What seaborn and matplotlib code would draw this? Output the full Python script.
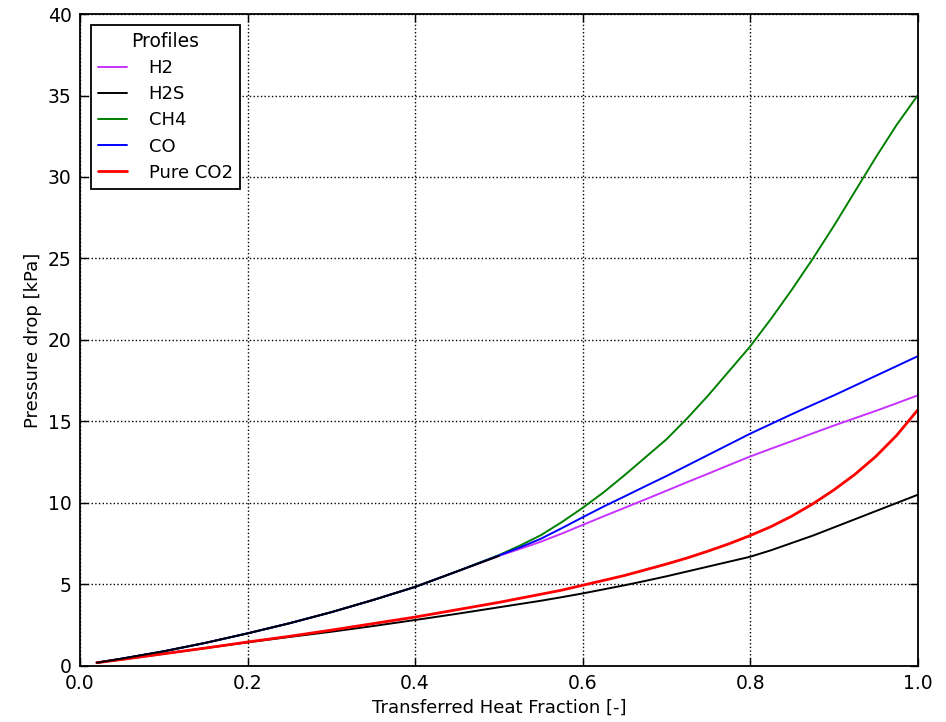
import numpy as np
import pandas as pd
import matplotlib.pyplot as plt
import seaborn as sns

# transferred heat fraction
frac = [0.02, 0.05, 0.10, 0.15, 0.20, 0.25, 0.30, 0.35, 0.40, 0.45, 0.50,
        0.525, 0.55, 0.575, 0.60, 0.625, 0.65, 0.675, 0.70, 0.725, 0.75,
        0.775, 0.80, 0.825, 0.85, 0.875, 0.90, 0.925, 0.95, 0.975, 1.00]

# pressure drop [kPa]
h2 = [0.2, 0.45, 0.9, 1.42, 2.0, 2.62, 3.3, 4.05, 4.85, 5.8, 6.75,
      7.18, 7.62, 8.12, 8.65, 9.18, 9.7, 10.22, 10.75, 11.28, 11.8,
      12.33, 12.85, 13.33, 13.8, 14.28, 14.75, 15.2, 15.65, 16.12, 16.6]
h2s = [0.2, 0.4, 0.75, 1.1, 1.45, 1.78, 2.1, 2.45, 2.82, 3.2, 3.6,
       3.8, 4.0, 4.22, 4.45, 4.7, 4.95, 5.22, 5.5, 5.8, 6.1,
       6.4, 6.7, 7.1, 7.55, 8.0, 8.5, 9.0, 9.5, 10.0, 10.5]
ch4 = [0.2, 0.45, 0.9, 1.42, 2.0, 2.62, 3.3, 4.05, 4.85, 5.8, 6.8,
       7.38, 8.02, 8.82, 9.7, 10.65, 11.7, 12.8, 13.9, 15.2, 16.6,
       18.1, 19.6, 21.3, 23.1, 25.0, 27.0, 29.1, 31.2, 33.2, 35.0]
co = [0.2, 0.45, 0.9, 1.42, 2.0, 2.62, 3.3, 4.05, 4.85, 5.8, 6.78,
      7.27, 7.8, 8.45, 9.12, 9.78, 10.4, 11.03, 11.65, 12.3, 12.95,
      13.6, 14.25, 14.85, 15.45, 16.03, 16.6, 17.2, 17.8, 18.4, 19.0]
co2 = [0.2, 0.4, 0.75, 1.1, 1.47, 1.82, 2.2, 2.6, 3.0, 3.45, 3.9,
       4.15, 4.4, 4.65, 4.95, 5.25, 5.55, 5.9, 6.25, 6.63, 7.05,
       7.5, 8.0, 8.55, 9.2, 9.95, 10.8, 11.75, 12.85, 14.15, 15.7]

# short black trace lying on the upper group
frac_b = [0.02, 0.05, 0.10, 0.15, 0.20, 0.25, 0.30, 0.35, 0.40, 0.45, 0.50]
h2s_b = [0.2, 0.45, 0.9, 1.42, 2.0, 2.62, 3.3, 4.05, 4.85, 5.8, 6.75]

labels = ['H2', 'H2S', 'CH4', 'CO', 'Pure CO2']
colors = ['#c832ff', 'black', 'green', 'blue', 'red']
widths = [1.4, 1.4, 1.4, 1.4, 2.0]

sns.set_style('ticks')
plt.rcParams['font.family'] = ['DejaVu Sans']
plt.rcParams['text.color'] = 'black'
plt.rcParams['axes.labelcolor'] = 'black'
plt.rcParams['xtick.color'] = 'black'
plt.rcParams['ytick.color'] = 'black'

fig = plt.figure(figsize=(9.46, 7.22), dpi=100)
ax = fig.add_axes([0.0846, 0.0776, 0.8854, 0.903])

for name, vals, c, lw in zip(labels, [h2, h2s, ch4, co, co2], colors, widths):
    df = pd.DataFrame({'x': frac, 'y': vals})
    sns.lineplot(data=df, x='x', y='y', color=c, linewidth=lw, label=name,
                 ax=ax, sort=False, estimator=None)

sns.lineplot(x=frac_b, y=h2s_b, color='black', linewidth=1.4, ax=ax,
             sort=False, estimator=None, label='_nolegend_')

ax.set_xlim(0, 1)
ax.set_ylim(0, 40)
ax.set_xticks(np.arange(0, 1.01, 0.2))
ax.set_yticks(np.arange(0, 41, 5))
ax.set_xticklabels([f'{v:.1f}' for v in np.arange(0, 1.01, 0.2)])
ax.grid(True, linestyle=':', color='black', linewidth=1.0)
ax.tick_params(direction='in', top=True, right=True, length=6, width=1,
               labelsize=13.5, pad=6, colors='black')
for s in ax.spines.values():
    s.set_linewidth(1.3)
    s.set_color('black')

ax.set_xlabel('Transferred Heat Fraction [-]', fontsize=13)
ax.set_ylabel('Pressure drop [kPa]', fontsize=13)

leg = ax.legend(title='Profiles', loc='upper left', fontsize=13,
                title_fontsize=13.5, fancybox=False, framealpha=1,
                edgecolor='black', handlelength=1.6, handletextpad=1.2,
                borderpad=0.4, labelspacing=0.45, borderaxespad=0.6)
leg.get_frame().set_linewidth(1.3)

fig.savefig('out.png', dpi=100)
